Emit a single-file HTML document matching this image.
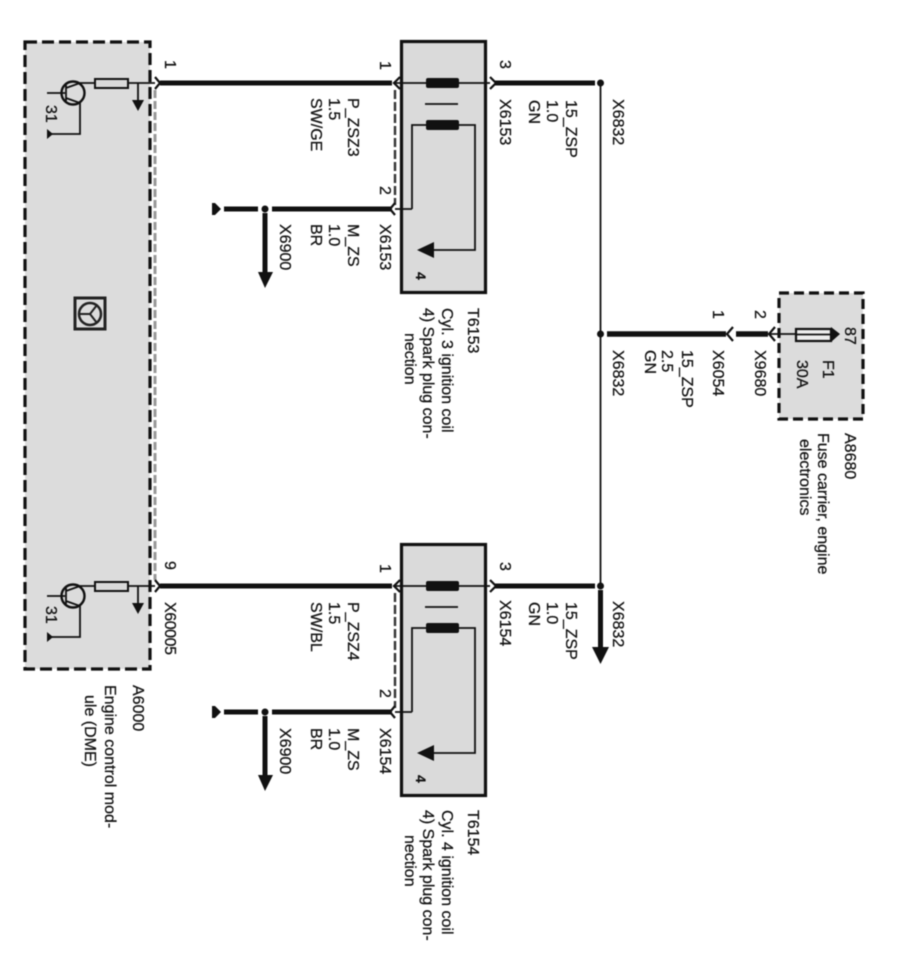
<!DOCTYPE html>
<html><head><meta charset="utf-8"><style>
html,body{margin:0;padding:0;background:#fff}
svg{display:block;filter:blur(.55px)}
text{font-family:"Liberation Sans",sans-serif;font-size:16px;fill:#111;stroke:#111;stroke-width:.25px}
</style></head><body>
<svg width="897" height="971" viewBox="0 0 897 971" xmlns="http://www.w3.org/2000/svg">
<defs>
<g id="coil">
<rect x="401.500" y="41.500" width="84" height="251" fill="#dadada" stroke="#111" stroke-width="3.200"/>
<path d="M395 83H490M412 209V125H475V250H432M395 209H412M425 104H458" fill="none" stroke="#111" stroke-width="1.800"/>
<rect x="426" y="78" width="33" height="10" rx="2" fill="#111"/>
<rect x="426" y="120" width="33" height="10" rx="2" fill="#111"/>
<path d="M417 250L434 242V258Z" fill="#111"/>
<path d="M395 90V205" stroke="#333" stroke-width="2.400" stroke-dasharray="9 3" fill="none"/>
<path d="M160 83H392M495 83H595M224 209H258M272 209H392" stroke="#111" stroke-width="5" fill="none"/>
<path d="M400 77L394 83L400 89M395 203L390 209L395 215M490 77L496 83L490 89" fill="none" stroke="#111" stroke-width="2.200"/>
<circle cx="265" cy="209" r="3.500" fill="#111"/>
<path d="M212 203H215L221 209L215 215H212Z" fill="#111"/>
<path d="M265 213V274" stroke="#111" stroke-width="5"/>
<path d="M258 272H273L265 288Z" fill="#111"/>
</g>
<g id="drv" fill="none" stroke="#111">
<circle cx="73" cy="93" r="11.500" stroke-width="2.400"/>
<path d="M47 93H65M66 85V101M66 88L80 83H155M66 98L80 103V134H50M138 83V101" stroke-width="1.800"/>
<rect x="95" y="79" width="33" height="9" fill="#dadada" stroke-width="2"/>
<path d="M132 100H144L138 111Z" fill="#111" stroke="none"/>
<path d="M47 129L53 134L47 139Z" fill="#111" stroke="none"/>
<path d="M155 77L160 83L155 89" stroke-width="2.200"/>
</g>
</defs>

<rect x="25" y="42" width="125" height="627" fill="#dcdcdc" stroke="#111" stroke-width="3.200" stroke-dasharray="12 5"/>
<path d="M155 90V580" stroke="#999" stroke-width="3" stroke-dasharray="8 3"/>
<use href="#drv"/>
<use href="#drv" y="503"/>
<use href="#coil"/>
<use href="#coil" y="503"/>

<!-- logo -->
<g fill="none" stroke="#222">
<rect x="75" y="298" width="30" height="31" stroke-width="3"/>
<circle cx="90" cy="314" r="11" stroke-width="2.500"/>
<path d="M78 314H90M90 314L97 305M90 314L97 323" stroke-width="2"/>
</g>

<!-- feed line -->
<path d="M600.500 83V586" stroke="#111" stroke-width="1.800"/>
<circle cx="600.500" cy="83" r="3.500" fill="#111"/>
<circle cx="600.500" cy="334" r="3.500" fill="#111"/>
<circle cx="600.500" cy="586" r="3.500" fill="#111"/>
<path d="M600.500 590V650" stroke="#111" stroke-width="5"/>
<path d="M592 647H609L600.500 664Z" fill="#111"/>
<path d="M607 334H726M736 334H768" stroke="#111" stroke-width="5.500"/>
<path d="M733 327L727 334L733 341M775 327L769 334L775 341" fill="none" stroke="#111" stroke-width="2.200"/>

<!-- fuse box -->
<rect x="779" y="293" width="84" height="126" fill="#dcdcdc" stroke="#111" stroke-width="3.200" stroke-dasharray="10 5"/>
<path d="M770 334H796" stroke="#111" stroke-width="1.800"/>
<rect x="796" y="329" width="35" height="12" fill="#eee" stroke="#111" stroke-width="2.200"/>
<path d="M796 334.500H831" stroke="#111" stroke-width="1.800"/>
<path d="M831 327L840 334L831 342Z" fill="#111"/>

<!-- labels -->
<text transform="translate(165,60) rotate(90)">1</text>
<text transform="translate(46,105) rotate(90)">31</text>
<text transform="translate(46,606) rotate(90)">31</text>
<text transform="translate(165,561) rotate(90)">9</text>
<text transform="translate(165,602) rotate(90)" textLength="53">X60005</text>

<text transform="translate(133,685) rotate(90)">A6000</text>
<text transform="translate(105,685) rotate(90)">Engine control mod-</text>
<text transform="translate(85,695) rotate(90)">ule (DME)</text>

<text transform="translate(380,61) rotate(90)">1</text>
<text transform="translate(380,186) rotate(90)">2</text>
<text transform="translate(348,98) rotate(90)">P_ZSZ3</text>
<text transform="translate(329,98) rotate(90)">1.5</text>
<text transform="translate(311,98) rotate(90)">SW/GE</text>
<text transform="translate(380,224) rotate(90)">X6153</text>
<text transform="translate(348,224) rotate(90)">M_ZS</text>
<text transform="translate(329,224) rotate(90)">1.0</text>
<text transform="translate(311,224) rotate(90)">BR</text>
<text transform="translate(280,224) rotate(90)">X6900</text>
<text transform="translate(416,272) rotate(90)" font-weight="bold" style="font-size:14px">4</text>
<text transform="translate(500,60) rotate(90)">3</text>
<text transform="translate(500,99) rotate(90)">X6153</text>
<text transform="translate(566,100) rotate(90)">15_ZSP</text>
<text transform="translate(547,100) rotate(90)">1.0</text>
<text transform="translate(529,100) rotate(90)">GN</text>
<text transform="translate(613,99) rotate(90)">X6832</text>
<text transform="translate(468,308) rotate(90)">T6153</text>
<text transform="translate(442,308) rotate(90)">Cyl. 3 ignition coil</text>
<text transform="translate(423,308) rotate(90)">4) Spark plug con-</text>
<text transform="translate(405,333) rotate(90)">nection</text>

<text transform="translate(380,564) rotate(90)">1</text>
<text transform="translate(380,689) rotate(90)">2</text>
<text transform="translate(348,602) rotate(90)">P_ZSZ4</text>
<text transform="translate(329,602) rotate(90)">1.5</text>
<text transform="translate(311,602) rotate(90)">SW/BL</text>
<text transform="translate(380,728) rotate(90)">X6154</text>
<text transform="translate(348,728) rotate(90)">M_ZS</text>
<text transform="translate(329,728) rotate(90)">1.0</text>
<text transform="translate(311,728) rotate(90)">BR</text>
<text transform="translate(280,728) rotate(90)">X6900</text>
<text transform="translate(416,775) rotate(90)" font-weight="bold" style="font-size:14px">4</text>
<text transform="translate(500,562) rotate(90)">3</text>
<text transform="translate(500,600) rotate(90)">X6154</text>
<text transform="translate(566,602) rotate(90)">15_ZSP</text>
<text transform="translate(547,602) rotate(90)">1.0</text>
<text transform="translate(529,602) rotate(90)">GN</text>
<text transform="translate(613,601) rotate(90)">X6832</text>
<text transform="translate(468,810) rotate(90)">T6154</text>
<text transform="translate(442,810) rotate(90)">Cyl. 4 ignition coil</text>
<text transform="translate(423,810) rotate(90)">4) Spark plug con-</text>
<text transform="translate(405,835) rotate(90)">nection</text>

<text transform="translate(613,350) rotate(90)">X6832</text>
<text transform="translate(682,350) rotate(90)">15_ZSP</text>
<text transform="translate(662,350) rotate(90)">2.5</text>
<text transform="translate(645,350) rotate(90)">GN</text>
<text transform="translate(713,310) rotate(90)">1</text>
<text transform="translate(755,310) rotate(90)">2</text>
<text transform="translate(713,350) rotate(90)">X6054</text>
<text transform="translate(755,350) rotate(90)">X9680</text>
<text transform="translate(845,327) rotate(90)">87</text>
<text transform="translate(823,360) rotate(90)">F1</text>
<text transform="translate(797,360) rotate(90)">30A</text>
<text transform="translate(845,433) rotate(90)">A8680</text>
<text transform="translate(818,433) rotate(90)">Fuse carrier, engine</text>
<text transform="translate(800,439) rotate(90)">electronics</text>
</svg>
</body></html>
